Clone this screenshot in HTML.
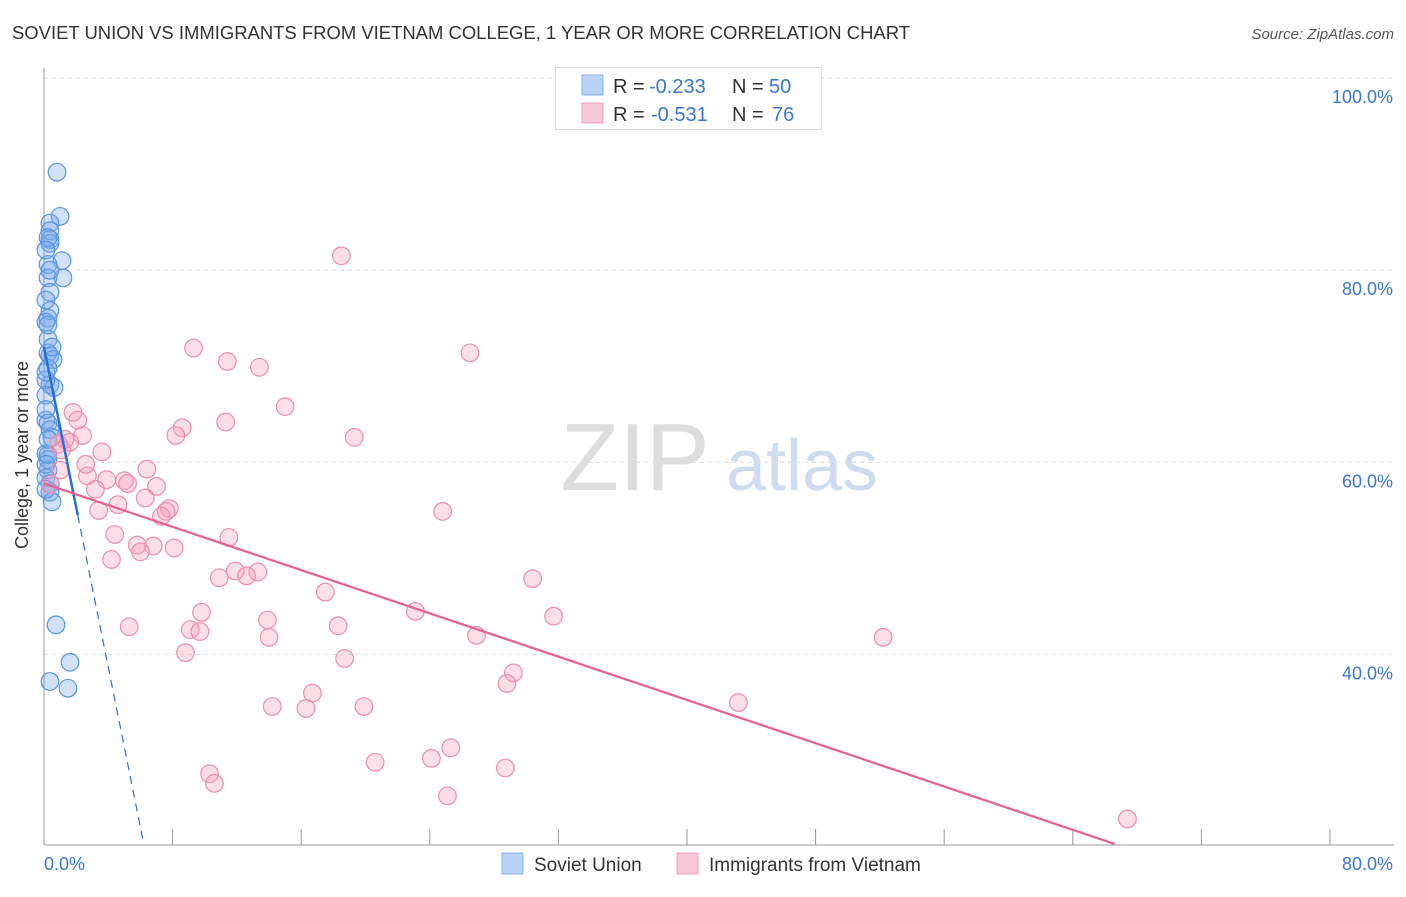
<!DOCTYPE html>
<html><head><meta charset="utf-8"><style>
body{margin:0;background:#fff;font-family:"Liberation Sans",sans-serif}
svg text{font-family:"Liberation Sans",sans-serif}
</style></head><body>
<svg id="chart" width="1406" height="892" xmlns="http://www.w3.org/2000/svg">
<text x="12" y="39" font-size="18" fill="#333" textLength="898" lengthAdjust="spacingAndGlyphs">SOVIET UNION VS IMMIGRANTS FROM VIETNAM COLLEGE, 1 YEAR OR MORE CORRELATION CHART</text>
<text x="1394" y="39" font-size="15" fill="#555" font-style="italic" text-anchor="end">Source: ZipAtlas.com</text>
<g>
<text x="635" y="490" font-size="96" fill="#ddd" font-family="Liberation Serif" text-anchor="middle">ZIP</text>
<text x="802" y="490" font-size="72" fill="#cfdcf0" text-anchor="middle">atlas</text>
</g>
<g id="grid"></g>
<g id="axes"></g>
<g id="pts"></g>
<g id="lines"></g>
<text x="28" y="455" font-size="18" fill="#333" text-anchor="middle" transform="rotate(-90 28 455)">College, 1 year or more</text>
<g>
<rect x="555.5" y="67.5" width="266" height="62" fill="#fff" stroke="#ddd"/>
<rect x="582" y="75" width="21" height="20" fill="#b8d3f5" stroke="#8ab2e8"/>
<rect x="582" y="103" width="21" height="20" fill="#f9c8d6" stroke="#eea0b8"/>
<text x="613" y="93" font-size="20" fill="#333">R = <tspan x="649" fill="#3a78d4">-0.233</tspan><tspan x="732">N = </tspan><tspan x="769" fill="#3a78d4">50</tspan></text>
<text x="613" y="121" font-size="20" fill="#333">R = <tspan x="651" fill="#3a78d4">-0.531</tspan><tspan x="732">N = </tspan><tspan x="772" fill="#3a78d4">76</tspan></text>
</g>
<g>
<rect x="502" y="853" width="21" height="21" fill="#b8d3f5" stroke="#8ab2e8"/>
<text x="534" y="871" font-size="19" fill="#333">Soviet Union</text>
<rect x="677" y="853" width="21" height="21" fill="#f9c8d6" stroke="#eea0b8"/>
<text x="709" y="871" font-size="19" fill="#333">Immigrants from Vietnam</text>
</g>
</svg>
<script>
const blueX=[0.81,1.0,0.37,0.37,0.37,0.37,0.25,1.12,0.25,1.18,0.25,0.37,0.37,0.25,0.12,0.25,0.25,0.37,0.56,0.25,0.37,0.62,0.12,0.12,0.25,0.37,0.5,0.12,0.25,0.25,0.12,0.37,0.37,0.5,0.75,1.62,0.37,1.49,0.12,0.12,0.25,0.12,0.37,0.12,0.25,0.12,0.12,0.5,0.12,0.25];
const blueY=[90.2,85.6,84.9,84.1,83.2,82.8,83.4,81.0,80.6,79.2,79.2,77.7,75.8,75.0,74.6,72.8,71.4,71.1,70.7,69.8,68.1,67.8,68.6,64.4,64.1,63.4,62.6,60.9,60.3,59.2,58.4,57.8,56.9,55.9,43.1,39.2,37.2,36.5,67.0,65.5,60.8,82.1,80.0,76.9,62.4,59.8,57.2,72.0,69.4,74.3];
const pinkX=[18.5,9.3,11.4,13.4,26.5,1.8,2.1,15.0,11.3,8.6,8.2,19.3,2.4,1.3,1.6,0.9,3.6,6.4,2.7,3.9,5.0,5.2,7.0,3.2,6.3,7.8,4.6,7.6,7.3,3.4,24.8,4.4,11.5,5.8,6.8,6.0,8.1,4.2,11.9,10.9,13.3,12.6,30.4,17.5,23.1,9.8,31.7,13.9,5.3,9.1,9.7,18.3,26.9,14.0,52.2,8.8,18.7,29.2,28.8,16.7,43.2,14.2,16.3,19.9,25.3,24.1,20.6,28.7,10.3,10.6,25.1,67.4,0.4,1.0,2.6,1.1];
const pinkY=[81.5,71.9,70.5,69.9,71.4,65.2,64.4,65.8,64.2,63.6,62.8,62.6,62.8,62.4,62.1,61.9,61.1,59.3,58.6,58.2,58.1,57.8,57.5,57.2,56.3,55.2,55.6,54.9,54.4,55.0,54.9,52.5,52.2,51.4,51.3,50.7,51.1,49.9,48.7,48.0,48.6,48.2,47.9,46.5,44.5,44.4,44.0,43.6,42.9,42.6,42.4,43.0,42.0,41.8,41.8,40.2,39.6,38.1,37.0,36.0,35.0,34.6,34.4,34.6,30.3,29.2,28.8,28.2,27.6,26.6,25.3,22.9,57.7,59.2,59.8,61.3];
const yTicks=[100,80,60,40];
const yTickLabels=["100.0%","80.0%","60.0%","40.0%"];
const xTickLabels=["0.0%","80.0%"];
const blueTrend=[72.0,-8.33];   // intercept, slope
const pinkTrend=[57.8,-0.563];
const NS="http://www.w3.org/2000/svg";
const sx=v=>44+v/80*1286;
const sy=v=>78+(100-v)*9.61;
function mk(tag,attrs,parent){const e=document.createElementNS(NS,tag);for(const k in attrs)e.setAttribute(k,attrs[k]);parent.appendChild(e);return e;}
const grid=document.getElementById('grid'),axes=document.getElementById('axes'),pts=document.getElementById('pts'),lines=document.getElementById('lines');
yTicks.forEach((t,i)=>{
 const g=mk('line',{x1:44,x2:1394,y1:sy(t),y2:sy(t),stroke:'#ddd','stroke-dasharray':'4,4'},grid);
 
 
 const l=mk('text',{x:1393,y:sy(t)+25,'font-size':18,fill:'#3a78d4','text-anchor':'end'},axes);
 l.textContent=yTickLabels[i];
 
 
});
const ya=mk('line',{x1:44,x2:44,y1:68,y2:845,stroke:'#999'},axes);


const xa=mk('line',{x1:44,x2:1394,y1:845,y2:845,stroke:'#999'},axes);


for(let i=0;i<=10;i++){const t=mk('line',{x1:sx(i*8),x2:sx(i*8),y1:829,y2:845,stroke:'#999'},axes);
 
 }
[[0,'start'],[80,'end']].forEach((p,i)=>{const t=mk('text',{x:i?1393:44,y:870,'font-size':18,fill:'#3a78d4','text-anchor':p[1]},axes);t.textContent=xTickLabels[i];
 
 });
blueX.forEach((x,i)=>{const c=mk('circle',{cx:sx(x),cy:sy(blueY[i]),r:8.8,fill:'rgba(120,170,235,0.35)',stroke:'#5b95e0','stroke-width':1.2},pts);
 
 });
pinkX.forEach((x,i)=>{const c=mk('circle',{cx:sx(x),cy:sy(pinkY[i]),r:8.8,fill:'rgba(245,160,185,0.35)',stroke:'#ec8fab','stroke-width':1.2},pts);
 
 });
const bEnd=2.1, bDash=(20.5-blueTrend[0])/blueTrend[1];
const b1=mk('line',{x1:sx(0),y1:sy(blueTrend[0]),x2:sx(bEnd),y2:sy(blueTrend[0]+blueTrend[1]*bEnd),stroke:'#2a6fd6','stroke-width':2.5},lines);


const b2=mk('line',{x1:sx(bEnd),y1:sy(blueTrend[0]+blueTrend[1]*bEnd),x2:sx(bDash),y2:sy(20.5),stroke:'#2a6fd6','stroke-width':1.2,'stroke-dasharray':'8,6'},lines);


const pEnd=(20.3-pinkTrend[0])/pinkTrend[1];
const p1=mk('line',{x1:sx(0),y1:sy(pinkTrend[0]),x2:sx(pEnd),y2:sy(20.3),stroke:'#e8608e','stroke-width':2.2},lines);


</script>
</body></html>
